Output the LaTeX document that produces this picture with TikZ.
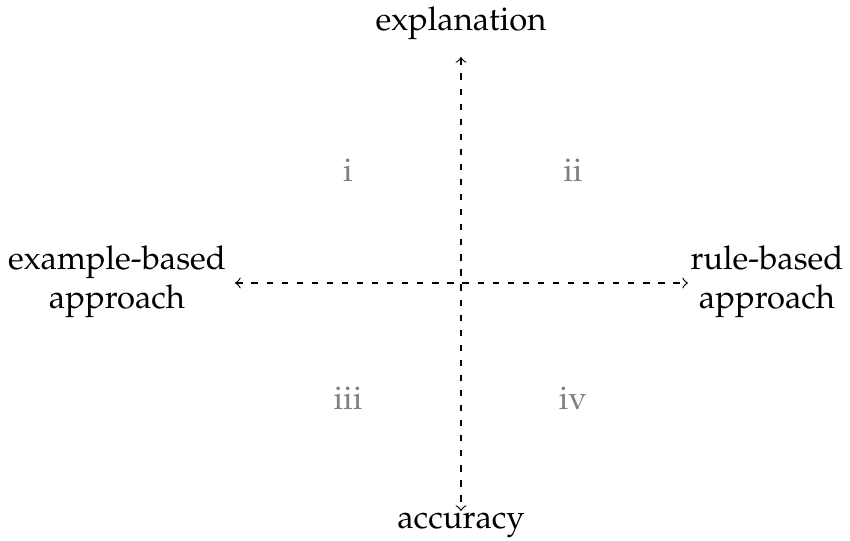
\documentclass[tikz,border=0pt]{standalone}
\usepackage[T1]{fontenc}
\usepackage{mathpazo}
\usepackage{xcolor}
\usepackage{tikz}
\usetikzlibrary{positioning, calc}

\begin{document}
\begin{tikzpicture}[
			x=0.01073cm, y=-0.01073cm,
			axis/.style={
					<->, dash pattern=on 1.9pt off 2.7pt, line width=0.35pt
				},
			pole/.style={
					align=center, inner sep=1pt
				},
			quadrant/.style={
					text=gray, inner sep=1pt
				}
		]
		\useasboundingbox (0,0) rectangle (850,541);

		% Axes
		\coordinate (o) at (461,283);
		\coordinate (top) at (461,57);
		\coordinate (bottom) at (461,511);
		\coordinate (left) at (235,283);
		\coordinate (right) at (688,283);
		\draw[axis] (top) -- (bottom);
		\draw[axis] (left) -- (right);

		% Poles
		\node[pole] (expl) at (461,23) {explanation};
		\node[pole] (acc) at (461,525) {accuracy};
		\node[pole] (exb) at (117,282) {example-based\\approach};
		\node[pole] (rub) at (767,282) {rule-based\\approach};

		% Quadrants
		\node[quadrant] (q1) at (348,170) {i};
		\node[quadrant] (q2) at (573,170) {ii};
		\node[quadrant] (q3) at (348,398) {iii};
		\node[quadrant] (q4) at (573,398) {iv};

	\end{tikzpicture}
\end{document}
